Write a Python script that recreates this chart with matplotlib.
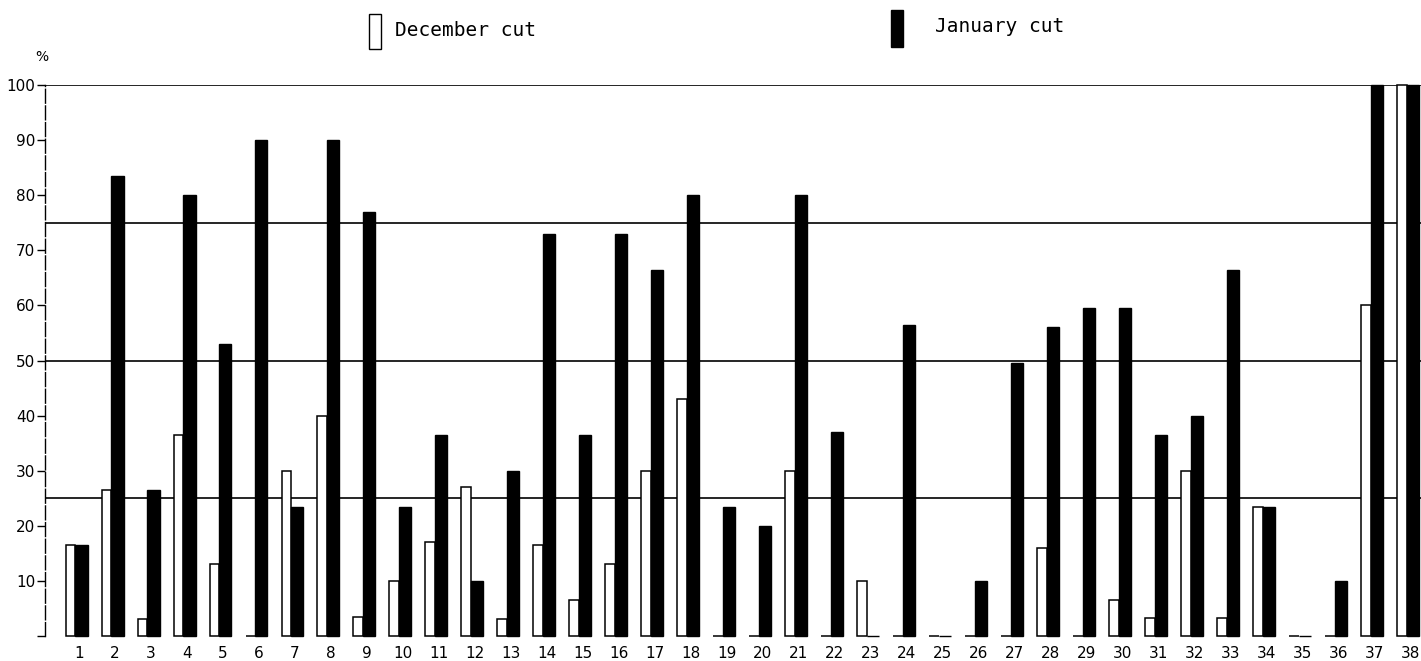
import matplotlib
matplotlib.use("Agg")
import matplotlib.pyplot as plt
from matplotlib.patches import Rectangle
import numpy as np

# plot numbers 1..38, percentage per cut
plots = list(range(1, 39))
december = [16.5, 26.5, 3, 36.5, 13, 0, 30, 40, 3.5, 10,
            17, 27, 3, 16.5, 6.5, 13, 30, 43, 0, 0,
            30, 0, 10, 0, 0, 0, 0, 16, 0, 6.5,
            3.2, 30, 3.2, 23.5, 0, 0, 60, 100]
january = [16.5, 83.5, 26.5, 80, 53, 90, 23.5, 90, 77, 23.5,
           36.5, 10, 30, 73, 36.5, 73, 66.5, 80, 23.5, 20,
           80, 37, 0, 56.5, 0, 10, 49.5, 56, 59.5, 59.5,
           36.5, 40, 66.5, 23.5, 0, 10, 100, 100]
y_ticks = list(range(0, 101, 10))
ref_lines = [25, 50, 75, 100]

fig = plt.figure(figsize=(14.21, 6.61), dpi=100)
ax = fig.add_axes([0.0317, 0.0378, 0.9683, 0.8336])

x = np.array(plots)
w_dec, w_jan = 0.27, 0.34
split = x - 0.1

# horizontal reference lines sit behind the bars
for v in ref_lines:
    ax.axhline(v, color="black", lw=1.2, zorder=1)

ax.bar(split, december, width=-w_dec, align="edge", facecolor="white",
       edgecolor="black", linewidth=1.1, zorder=2, clip_on=False)
ax.bar(split, january, width=w_jan, align="edge", facecolor="black",
       edgecolor="black", linewidth=1.0, zorder=3, clip_on=False)

ax.set_xlim(0.058, 38.3)
ax.set_ylim(0, 100)

ax.set_xticks(x)
ax.set_xticklabels([str(p) for p in plots], fontsize=11)
ax.tick_params(axis="x", length=0, pad=7)

ax.set_yticks(y_ticks)
ax.set_yticklabels(["" if t == 0 else str(t) for t in y_ticks], fontsize=11)
ax.tick_params(axis="y", direction="out", length=6, width=1.0, pad=1)

for s in ["top", "right", "bottom"]:
    ax.spines[s].set_visible(False)
ax.spines["left"].set_linewidth(1.0)
ax.spines["left"].set_linestyle((0, (10, 2)))

fig.text(42 / 1421, 1 - 57 / 661, "%", fontsize=10, ha="center", va="center")

# legend drawn by hand: tall narrow bar symbols with labels
fig.patches.append(Rectangle((369 / 1421, 1 - 49 / 661), 12 / 1421, 35 / 661,
                             transform=fig.transFigure, facecolor="white",
                             edgecolor="black", linewidth=1.0))
fig.patches.append(Rectangle((891 / 1421, 1 - 47 / 661), 12 / 1421, 37 / 661,
                             transform=fig.transFigure, facecolor="black",
                             edgecolor="black", linewidth=1.0))
fig.text(395 / 1421, 1 - 30 / 661, "December cut", fontsize=14,
         family="DejaVu Sans Mono", ha="left", va="center")
fig.text(935 / 1421, 1 - 27 / 661, "January cut", fontsize=14,
         family="DejaVu Sans Mono", ha="left", va="center")

fig.savefig("out.png", dpi=100, facecolor="white")
